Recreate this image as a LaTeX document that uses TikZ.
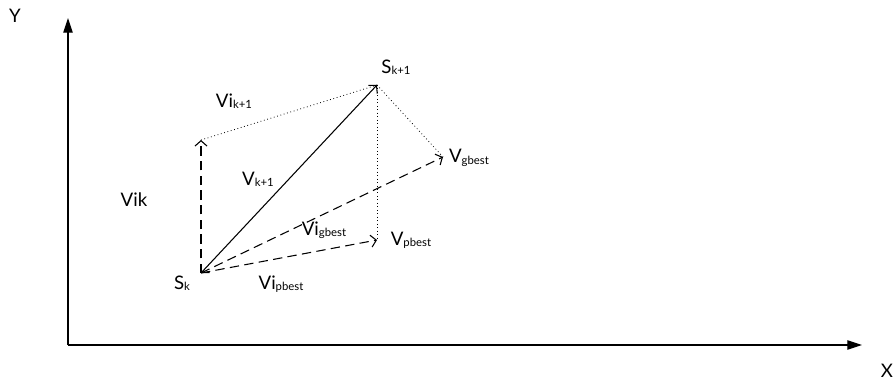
\documentclass[tikz,border=0pt]{standalone}
\usepackage{fontspec}
\setmainfont{Lato}
\usepackage{tikz}
\usetikzlibrary{arrows.meta, positioning}
\definecolor{InkBlk}{HTML}{000000}
\newcommand{\lowsub}[1]{\raisebox{-1pt}{\fontsize{8.5}{9}\selectfont #1}}

\begin{document}
\begin{tikzpicture}[x=0.75pt, y=-0.75pt,
    lbl/.style={inner sep=0pt, font=\fontsize{14}{16}\selectfont, text=InkBlk},
    axis/.style={line width=0.8pt, -{Triangle[length=11pt, width=7pt]}},
    vec/.style={line width=0.8pt, -{Straight Barb[length=4pt, width=9pt]}},
    dashvec/.style={vec, dash pattern=on 7pt off 4pt},
    guide/.style={line width=0.6pt, dotted}]
        \useasboundingbox (0,0) rectangle (893,385);
        % axes
        \coordinate (o) at (68,345);
        \coordinate (ytip) at (68,18);
        \coordinate (xtip) at (862,345);
        \draw[axis] (o) -- (ytip);
        \draw[axis] (o) -- (xtip);
        \node[lbl] (ylab) at (15,16) {Y};
        \node[lbl] (xlab) at (887,371) {X};
        % points
        \coordinate (sk) at (201,273);
        \coordinate (skn) at (377,85);
        \coordinate (vik) at (201,140);
        \coordinate (vg) at (443,157);
        \coordinate (vp) at (377,240);
        % vectors
        \draw[vec, {Straight Barb[length=4pt, width=9pt]}-{Straight Barb[length=4pt, width=9pt]}] (sk) -- (skn);
        \draw[dashvec] (sk) -- (vik);
        \draw[dashvec] (sk) -- (vg);
        \draw[dashvec] (sk) -- (vp);
        \draw[guide] (vik) -- (skn);
        \draw[guide] (skn) -- (vg);
        \draw[guide] (skn) -- (vp);
        % labels
        \node[lbl] (sklab) at (182,283) {S\lowsub{k}};
        \node[lbl] (sknlab) at (396,67) {S\lowsub{k+1}};
        \node[lbl] (viknlab) at (234,101) {Vi\lowsub{k+1}};
        \node[lbl] (vknlab) at (258,179) {V\lowsub{k+1}};
        \node[lbl] (viklab) at (134,200) {Vik};
        \node[lbl] (vigblab) at (324,230) {Vi\lowsub{gbest}};
        \node[lbl] (vpblab) at (411,240) {V\lowsub{pbest}};
        \node[lbl] (vipblab) at (281,284) {Vi\lowsub{pbest}};
        \node[lbl] (vgblab) at (469,158) {V\lowsub{gbest}};
      \end{tikzpicture}
\end{document}
